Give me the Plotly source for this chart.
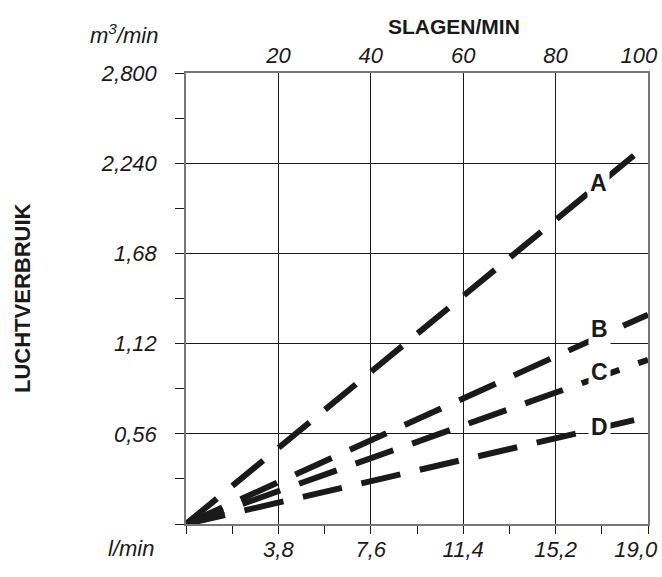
import plotly.graph_objects as go

# Data
strokes = [0, 100]                       # SLAGEN/MIN
series_names = ["A", "B", "C", "D"]
series_A = [0, 2.36]
series_B = [0, 1.30]
series_C = [0, 1.02]
series_D = [0, 0.665]
label_x = [89.3, 89.5, 89.5, 89.5]
label_y = [2.12, 1.21, 0.945, 0.60]

NB = "\u00a0"
top_ticks = [20, 40, 60, 80, 100]
top_labels = ["20", "40", "60", "80", "100" + NB * 3]
bottom_ticks = [0, 20, 40, 60, 80, 100]
bottom_labels = ["", "3,8", "7,6", "11,4", "15,2", "19,0" + NB * 4]
bottom_minor = [10, 30, 50, 70, 90]
y_ticks = [0, 0.56, 1.12, 1.68, 2.24, 2.8]
y_labels = ["", "0,56", "1,12", "1,68", "2,240", "2,800"]
y_minor = [0.28, 0.84, 1.40, 1.96, 2.52]

FONT = "Liberation Sans, Arial, sans-serif"
ital = dict(family=FONT, size=22, color="#1a1a1a", style="italic")

fig = go.Figure()
for name, ys in zip(series_names, [series_A, series_B, series_C, series_D]):
    fig.add_trace(go.Scatter(x=strokes, y=ys, mode="lines", name=name,
                             line=dict(color="#1a1a1a", width=6, dash="40px,20px"),
                             showlegend=False, hoverinfo="skip"))
# invisible trace for top axis
fig.add_trace(go.Scatter(x=strokes, y=[0, 0], xaxis="x2", mode="lines",
                         line=dict(width=0), showlegend=False, hoverinfo="skip"))

for name, lx, ly in zip(series_names, label_x, label_y):
    fig.add_annotation(x=lx, y=ly, text="<b>%s</b>" % name, showarrow=False,
                       font=dict(family=FONT, size=23, color="#1a1a1a"),
                       bgcolor="white", borderpad=2,
                       xanchor="center", yanchor="middle")

fig.update_layout(
    width=662, height=577,
    margin=dict(l=186, r=14, t=73, b=53, autoexpand=False),
    plot_bgcolor="white", paper_bgcolor="white",
    xaxis=dict(range=[0, 100], tickvals=bottom_ticks, ticktext=bottom_labels,
               ticks="outside", ticklen=8, tickcolor="#1a1a1a", tickwidth=1,
               showgrid=True, gridcolor="#1a1a1a", gridwidth=1, zeroline=False,
               showline=True, linecolor="#777", linewidth=1.5, mirror=True,
               tickfont=ital, ticklabelstandoff=-3, automargin=False,
               ticklabeloverflow="allow",
               minor=dict(tickvals=bottom_minor, ticks="outside", ticklen=8,
                          tickcolor="#1a1a1a", showgrid=False)),
    xaxis2=dict(range=[0, 100], overlaying="x", side="top", tickvals=top_ticks,
                ticktext=top_labels, ticks="", showgrid=False, zeroline=False,
                showline=False, tickfont=ital, ticklabelstandoff=5,
                automargin=False, ticklabeloverflow="allow"),
    yaxis=dict(range=[0, 2.8], tickvals=y_ticks, ticktext=y_labels,
               ticks="outside", ticklen=9, tickcolor="#1a1a1a", tickwidth=1,
               showgrid=True, gridcolor="#1a1a1a", gridwidth=1, zeroline=False,
               showline=True, linecolor="#777", linewidth=1.5, mirror=True,
               tickfont=ital, ticklabelstandoff=14, automargin=False,
               ticklabeloverflow="allow",
               minor=dict(tickvals=y_minor, ticks="outside", ticklen=9,
                          tickcolor="#1a1a1a", showgrid=False)),
)

def paper_x(px):
    return (px - 186) / 462

def paper_y(py):
    return (524 - py) / 451

fig.add_annotation(xref="paper", yref="paper", x=paper_x(454), y=paper_y(27),
                   text="<b>SLAGEN/MIN</b>", showarrow=False,
                   xanchor="center", yanchor="middle",
                   font=dict(family=FONT, size=21, color="#1a1a1a"))
fig.add_annotation(xref="paper", yref="paper", x=paper_x(124), y=paper_y(34),
                   text="m<sup>3</sup>/min", showarrow=False,
                   xanchor="center", yanchor="middle", font=ital)
fig.add_annotation(xref="paper", yref="paper", x=paper_x(131), y=paper_y(548),
                   text="l/min", showarrow=False,
                   xanchor="center", yanchor="middle", font=ital)
fig.add_annotation(xref="paper", yref="paper", x=paper_x(22), y=paper_y(298),
                   text="<b>LUCHTVERBRUIK</b>", showarrow=False, textangle=-90,
                   xanchor="center", yanchor="middle",
                   font=dict(family=FONT, size=22, color="#1a1a1a"))

fig.write_html("out.html",
               config={"displayModeBar": False},
               post_script="document.body.style.margin='0';"
                           "document.body.style.overflow='hidden';")
